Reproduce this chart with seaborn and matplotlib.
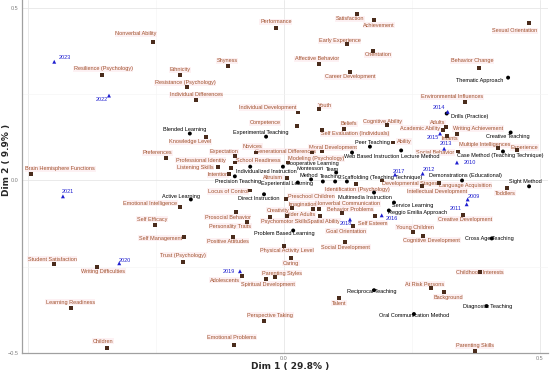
import numpy as np
import pandas as pd
import matplotlib
matplotlib.use('Agg')
import matplotlib.pyplot as plt
import seaborn as sns

# ==============================
# DATA (coordinates on Dim 1 / Dim 2)
# ==============================
concept_names = [
    'Nonverbal Ability', 'Shyness', 'Ethnicity', 'Resistance (Psychology)', 'Individual Differences',
    'Resilience (Psychology)', 'Performance', 'Satisfaction', 'Achievement', 'Early Experience',
    'Orientation', 'Affective Behavior', 'Career Development', 'Youth', 'Individual Development',
    'Competence', 'Beliefs', 'Cognitive Ability', 'Self Evaluation (Individuals)', 'Sexual Orientation',
    'Behavior Change', 'Environmental Influences', 'Adults', 'Academic Ability', 'Writing Achievement',
    'Infants', 'Social Behavior', 'Multiple Intelligences', 'Experience', 'Language Acquisition',
    'Developmental Stages', 'Intellectual Development', 'Toddlers', 'Creative Development', 'Young Children',
    'Cognitive Development', 'Behavior Problems', 'Self Esteem', 'Goal Orientation', 'Nonverbal Communication',
    'Identification (Psychology)', 'Moral Development', 'Modeling (Psychology)', 'Generational Differences', 'Ability',
    'Spatial Ability', 'Preschool Children', 'Imagination', 'Older Adults', 'Creativity',
    'Psychomotor Skills', 'Altruism', 'School Readiness', 'Expectation', 'Novices',
    'Professional Identity', 'Listening Skills', 'Intention', 'Preferences', 'Knowledge Level',
    'Emotional Intelligence', 'Self Efficacy', 'Self Management', 'Locus of Control', 'Prosocial Behavior',
    'Personality Traits', 'Positive Attitudes', 'Brain Hemisphere Functions', 'Student Satisfaction', 'Writing Difficulties',
    'Learning Readiness', 'Children', 'Trust (Psychology)', 'Adolescents', 'Spiritual Development',
    'Parenting Styles', 'Caring', 'Physical Activity Level', 'Social Development', 'Perspective Taking',
    'Emotional Problems', 'Talent', 'At Risk Persons', 'Background', 'Childhood Interests',
    'Parenting Skills',
]
concept_x = [
    -0.256, -0.109, -0.203, -0.189, -0.172,
    -0.355, -0.016, 0.143, 0.176, 0.123,
    0.174, 0.068, 0.129, 0.068, 0.027,
    0.025, 0.117, 0.201, 0.074, 0.479,
    0.381, 0.354, 0.316, 0.311, 0.338,
    0.318, 0.340, 0.418, 0.455, 0.303,
    0.191, 0.270, 0.436, 0.350, 0.252,
    0.271, 0.113, 0.178, 0.135, 0.068,
    0.141, 0.074, 0.008, 0.055, 0.213,
    0.070, 0.004, 0.016, 0.057, -0.027,
    0.006, 0.006, -0.096, -0.096, -0.055,
    -0.104, -0.129, -0.107, -0.230, -0.152,
    -0.203, -0.252, -0.195, -0.066, -0.094,
    -0.072, -0.100, -0.494, -0.449, -0.365,
    -0.416, -0.346, -0.197, -0.082, -0.035,
    -0.018, 0.014, 0.000, 0.119, -0.039,
    -0.098, 0.107, 0.287, 0.313, 0.383,
    0.373,
]
concept_y = [
    0.402, 0.332, 0.306, 0.272, 0.234,
    0.306, 0.442, 0.483, 0.465, 0.396,
    0.376, 0.338, 0.315, 0.208, 0.197,
    0.159, 0.150, 0.162, 0.147, 0.457,
    0.327, 0.228, 0.156, 0.145, 0.136,
    0.130, 0.084, 0.095, 0.087, -0.006,
    0.000, -0.017, -0.023, -0.101, -0.150,
    -0.162, -0.095, -0.104, -0.133, -0.084,
    -0.009, 0.084, 0.052, 0.081, 0.110,
    -0.104, -0.055, -0.081, -0.084, -0.107,
    -0.104, 0.006, 0.052, 0.072, 0.081,
    0.035, 0.038, 0.020, 0.066, 0.127,
    -0.078, -0.130, -0.165, -0.029, -0.092,
    -0.121, -0.165, 0.020, -0.243, -0.251,
    -0.370, -0.486, -0.237, -0.277, -0.286,
    -0.280, -0.225, -0.191, -0.179, -0.408,
    -0.477, -0.341, -0.312, -0.324, -0.266,
    -0.494,
]

method_names = [
    'Thematic Approach', 'Drills (Practice)', 'Creative Teaching', 'Case Method (Teaching Technique)', 'Lecture Method',
    'Web Based Instruction', 'Peer Teaching', 'Demonstrations (Educational)', 'Sight Method', 'Service Learning',
    'Reggio Emilia Approach', 'Cross Age Teaching', 'Multimedia Instruction', 'Scaffolding (Teaching Technique)', 'Teaching',
    'Method', 'Team', 'Montessori', 'Experiential Learning', 'Cooperative Learning',
    'Blended Learning', 'Experimental Teaching', 'Individualized Instruction', 'Precision Teaching', 'Active Learning',
    'Direct Instruction', 'Problem Based Learning', 'Reciprocal Teaching', 'Oral Communication Method', 'Diagnostic Teaching',
]
method_x = [
    0.438, 0.318, 0.443, 0.428, 0.229,
    0.133, 0.168, 0.348, 0.479, 0.215,
    0.205, 0.406, 0.176, 0.123, 0.100,
    0.076, 0.102, 0.053, 0.027, -0.002,
    -0.184, -0.035, -0.066, -0.096, -0.182,
    -0.039, 0.018, 0.176, 0.254, 0.396,
]
method_y = [
    0.298, 0.194, 0.139, 0.084, 0.087,
    0.081, 0.098, 0.000, -0.017, -0.064,
    -0.087, -0.168, -0.035, -0.003, -0.003,
    -0.003, 0.023, 0.003, -0.006, 0.040,
    0.136, 0.127, 0.040, 0.012, -0.055,
    -0.040, -0.145, -0.318, -0.387, -0.364,
]

year_names = ['2023', '2022', '2021', '2020', '2019', '2018', '2017', '2016',
              '2015', '2014', '2013', '2012', '2011', '2010', '2009']
year_x = [-0.449, -0.342, -0.432, -0.322, -0.086, 0.129, 0.217, 0.191,
          0.305, 0.320, 0.313, 0.271, 0.357, 0.338, 0.359]
year_y = [0.344, 0.246, -0.046, -0.240, -0.263, -0.113, 0.017, -0.101,
          0.136, 0.199, 0.092, 0.020, -0.069, 0.052, -0.055]

# label offsets in pixels (dx, dy), default is just above the point
label_offset = {
    'Nonverbal Ability': (-17, 8), 'Shyness': (-1, 5), 'Ethnicity': (0, 5), 'Resistance (Psychology)': (-2, 4),
    'Individual Differences': (0, 5), 'Resilience (Psychology)': (1, 6), 'Performance': (0, 6),
    'Satisfaction': (-7, -5), 'Achievement': (5, -5), 'Early Experience': (-7, 3), 'Orientation': (5, -4),
    'Affective Behavior': (-2, 5), 'Career Development': (0, -5), 'Youth': (6, 3),
    'Individual Development': (-30, 5), 'Competence': (-32, 3), 'Beliefs': (5, 5), 'Cognitive Ability': (-4, 3),
    'Self Evaluation (Individuals)': (33, -4), 'Sexual Orientation': (-14, -8), 'Behavior Change': (-7, 7),
    'Environmental Influences': (-13, 5), 'Adults': (-8, 4), 'Academic Ability': (-23, 2),
    'Writing Achievement': (21, 5), 'Infants': (3, -3), 'Social Behavior': (-23, -1),
    'Multiple Intelligences': (-13, 3), 'Experience': (8, 3), 'Language Acquisition': (26, -3),
    'Developmental Stages': (28, -3), 'Intellectual Development': (15, -5), 'Toddlers': (-2, -5),
    'Creative Development': (2, -4), 'Young Children': (2, 5), 'Cognitive Development': (9, -4),
    'Behavior Problems': (8, 4), 'Self Esteem': (-2, -7), 'Goal Orientation': (-7, -5),
    'Nonverbal Communication': (29, 6), 'Identification (Psychology)': (1, -6), 'Moral Development': (11, 4),
    'Modeling (Psychology)': (28, 4), 'Generational Differences': (-27, 1), 'Ability': (11, 1),
    'Spatial Ability': (4, -5), 'Preschool Children': (25, 3), 'Imagination': (11, 4), 'Older Adults': (-13, -5),
    'Creativity': (8, 7), 'Psychomotor Skills': (-3, -5), 'Altruism': (-14, 1), 'School Readiness': (23, 2),
    'Expectation': (-11, 4), 'Novices': (-3, 6), 'Professional Identity': (-30, 8), 'Listening Skills': (-23, 0),
    'Intention': (-11, -1), 'Preferences': (-9, 5), 'Knowledge Level': (-16, -5),
    'Emotional Intelligence': (-30, 4), 'Self Efficacy': (-3, 6), 'Self Management': (-24, -1),
    'Locus of Control': (-22, -1), 'Prosocial Behavior': (-8, -5), 'Personality Traits': (-17, -4),
    'Positive Attitudes': (-5, -4), 'Brain Hemisphere Functions': (29, 5), 'Student Satisfaction': (-2, 5),
    'Writing Difficulties': (6, -4), 'Learning Readiness': (-1, 6), 'Children': (-4, 7),
    'Trust (Psychology)': (0, 7), 'Adolescents': (-17, -4), 'Spiritual Development': (2, -5),
    'Parenting Styles': (7, 4), 'Caring': (0, -5), 'Physical Activity Level': (3, -4),
    'Social Development': (1, -5), 'Perspective Taking': (6, 6), 'Emotional Problems': (-2, 8),
    'Talent': (0, -5), 'At Risk Persons': (-6, 4), 'Background': (4, -5), 'Childhood Interests': (0, 0),
    'Parenting Skills': (0, 5),
    'Thematic Approach': (-28, -3), 'Drills (Practice)': (23, -3), 'Creative Teaching': (-3, -4),
    'Case Method (Teaching Technique)': (-3, -4), 'Lecture Method': (19, -6), 'Web Based Instruction': (20, -4),
    'Peer Teaching': (2, 4), 'Demonstrations (Educational)': (3, 5), 'Sight Method': (-4, 5),
    'Service Learning': (19, -3), 'Reggio Emilia Approach': (29, -2), 'Cross Age Teaching': (-2, 0),
    'Multimedia Instruction': (-9, -5), 'Scaffolding (Teaching Technique)': (35, 4), 'Teaching': (-4, 5),
    'Method': (-14, 6), 'Team': (-4, 3), 'Montessori': (-1, 11), 'Experiential Learning': (-11, -1),
    'Cooperative Learning': (29, 3), 'Blended Learning': (-5, 4), 'Experimental Teaching': (-5, 4),
    'Individualized Instruction': (16, -5), 'Precision Teaching': (3, -5), 'Active Learning': (-10, 3),
    'Direct Instruction': (-5, -4), 'Problem Based Learning': (-9, -3), 'Reciprocal Teaching': (-2, -1),
    'Oral Communication Method': (0, -1), 'Diagnostic Teaching': (1, 0),
    '2023': (11, 4), '2022': (-7, -4), '2021': (5, 5), '2020': (6, 3), '2019': (-11, 0), '2018': (-4, -4),
    '2017': (4, 3), '2016': (10, -3), '2015': (-7, -4), '2014': (-9, 4), '2013': (2, 5), '2012': (6, 4),
    '2011': (-11, -4), '2010': (13, 0), '2009': (6, 3),
}

df = pd.concat([
    pd.DataFrame({'name': concept_names, 'x': concept_x, 'y': concept_y, 'group': 'concept'}),
    pd.DataFrame({'name': method_names, 'x': method_x, 'y': method_y, 'group': 'method'}),
    pd.DataFrame({'name': year_names, 'x': year_x, 'y': year_y, 'group': 'year'}),
], ignore_index=True)

marker_col = {'concept': '#4a2c1c', 'method': '#000000', 'year': '#1f1fd0'}
text_col = {'concept': '#a0522d', 'method': '#000000', 'year': '#1f1fd0'}
box_col = {'concept': '#fde8ec', 'method': '#ffffff', 'year': '#ffffff'}

# ==============================
# PLOT
# ==============================
sns.set_style('white')
plt.rcParams['font.family'] = ['Liberation Sans', 'DejaVu Sans']

fig = plt.figure(figsize=(5.5, 3.72), dpi=100)
ax = fig.add_axes([22 / 550, 1 - 353 / 372, 526 / 550, 353 / 372])

sns.scatterplot(data=df, x='x', y='y', hue='group', style='group',
                markers={'concept': 's', 'method': 'o', 'year': '^'},
                palette=marker_col, s=8, linewidth=0, legend=False, ax=ax, zorder=4)

for _, r in df.iterrows():
    dx, dy = label_offset.get(r['name'], (0, 5))
    ax.annotate(r['name'], (r['x'], r['y']), xytext=(dx, dy), textcoords='offset pixels',
                ha='center', va='center', fontsize=4, color=text_col[r['group']], zorder=3,
                bbox=dict(boxstyle='square,pad=0.1', fc=box_col[r['group']], ec='none', alpha=0.6))

ax.set_xlim(-0.512, 0.516)
ax.set_ylim(-0.497, 0.523)
ax.set_xticks([-0.5, 0.0, 0.5])
ax.set_xticklabels(['', '0.0', '0.5'])
ax.set_yticks([-0.5, 0.0, 0.5])
ax.set_xticks([-0.25, 0.25], minor=True)
ax.set_yticks([-0.25, 0.25], minor=True)
ax.grid(True, which='major', color='#e6e6e6', linewidth=0.6)
ax.grid(True, which='minor', color='#f3f3f3', linewidth=0.4)
ax.tick_params(axis='both', labelsize=4, colors='#808080', length=2, width=0.5, pad=0.5)
ax.tick_params(axis='both', which='minor', length=0)
for s in ['top', 'right']:
    ax.spines[s].set_visible(False)
for s in ['left', 'bottom']:
    ax.spines[s].set_color('#a0a0a0')
    ax.spines[s].set_linewidth(0.9)
ax.set_xlabel('')
ax.set_ylabel('')

fig.text(290 / 550, 1 - 366 / 372, 'Dim 1 ( 29.8% )', ha='center', va='center',
         fontsize=6.5, fontweight='bold', family='DejaVu Sans')
fig.text(7 / 550, 1 - 160 / 372, 'Dim 2 ( 9.9% )', ha='center', va='center', rotation=90,
         fontsize=6.5, fontweight='bold', family='DejaVu Sans')

fig.savefig('out.png', dpi=100)
